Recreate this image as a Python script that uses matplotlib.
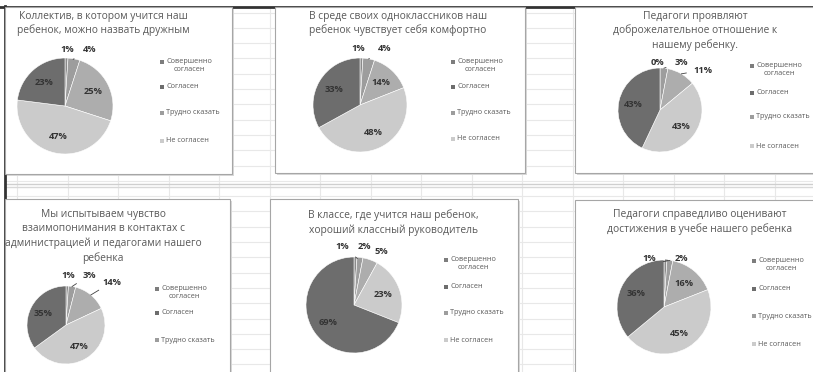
import numpy as np
import matplotlib
matplotlib.use('Agg')
import matplotlib.pyplot as plt
from matplotlib.patches import Rectangle

plt.rcParams['font.family'] = ['Open Sans', 'DejaVu Sans']

# survey answers, share of parents in %, slices clockwise from 12 o'clock
friendly = [1, 4, 25, 47, 23]
comfort = [1, 4, 14, 48, 33]
teachers_kind = [0, 3, 11, 43, 43]
mutual = [1, 3, 14, 47, 35]
class_teacher = [1, 2, 5, 23, 69]
fair_grades = [1, 2, 16, 45, 36]

titles = [
    'Коллектив, в котором учится наш\nребенок, можно назвать дружным',
    'В среде своих одноклассников наш\nребенок чувствует себя комфортно',
    'Педагоги проявляют\nдоброжелательное отношение к\nнашему ребенку.',
    'Мы испытываем чувство\nвзаимопонимания в контактах с\nадминистрацией и педагогами нашего\nребенка',
    'В классе, где учится наш ребенок,\nхороший классный руководитель',
    'Педагоги справедливо оценивают\nдостижения в учебе нашего ребенка',
]
answers = ['Совершенно\nсогласен', 'Согласен', 'Трудно сказать', 'Не согласен']

slice_colors = ['#8a8a8a', '#9d9d9d', '#adadad', '#cbcbcb', '#6d6d6d']
key_colors = ['#7d7d7d', '#6d6d6d', '#9d9d9d', '#cbcbcb']

W, H = 813, 372
fig = plt.figure(figsize=(W / 100, H / 100), dpi=100)
bg = fig.add_axes([0, 0, 1, 1])
bg.set_xlim(0, W)
bg.set_ylim(H, 0)
bg.axis('off')

# worksheet grid behind the charts
for x in np.arange(17, W, 50.5):
    bg.plot([x, x], [7, H], color='#e8e8e8', lw=0.8)
for y in np.arange(12.5, H, 15.3):
    bg.plot([5, W], [y, y], color='#e8e8e8', lw=0.8)
bg.plot([5, W], [183.5, 183.5], color='#cfcfcf', lw=1)
bg.plot([5, W], [186.5, 186.5], color='#d8d8d8', lw=1)
bg.plot([0, W], [6.5, 6.5], color='#333333', lw=2)
bg.plot([5, 5], [6, H], color='#333333', lw=2)

# panel box, title centre / top, pie centre and radius, legend x / ys, outside labels
layout = [
    dict(box=(5, 7, 232, 174), tx=103, ty=10.5, c=(65, 106), r=48, lx=162, ly=[62, 87, 113, 141],
         out={0: (0.04, 1.17, False), 1: (0.52, 1.17, True)}),
    dict(box=(275, 7, 525, 173), tx=398, ty=10.5, c=(360, 105), r=47, lx=453, ly=[62, 87, 113, 139],
         out={0: (-0.04, 1.21, False), 1: (0.53, 1.21, True)}),
    dict(box=(575, 7, 816, 173), tx=695, ty=10.5, c=(660, 110), r=42, lx=752, ly=[66, 93, 117, 146],
         out={0: (-0.05, 1.14, False), 1: (0.52, 1.14, True), 2: (1.02, 0.95, True)}),
    dict(box=(5, 199, 230, 376), tx=103, ty=209.5, c=(66, 325), r=39, lx=157, ly=[289, 313, 340],
         out={0: (0.05, 1.28, False), 1: (0.6, 1.28, True), 2: (1.18, 1.1, True)}),
    dict(box=(270, 199, 518, 376), tx=393, ty=209.5, c=(354, 305), r=48, lx=446, ly=[260, 287, 313, 340],
         out={0: (-0.25, 1.21, True), 1: (0.21, 1.21, False), 2: (0.56, 1.12, False)}),
    dict(box=(575, 200, 816, 376), tx=700, ty=209.5, c=(664, 307), r=47, lx=754, ly=[261, 289, 316, 344],
         out={0: (-0.32, 1.04, True), 1: (0.38, 1.04, True)}),
]
series = [friendly, comfort, teachers_kind, mutual, class_teacher, fair_grades]

for vals, title, L in zip(series, titles, layout):
    x0, y0, x1, y1 = L['box']
    bg.add_patch(Rectangle((x0 + 1.5, y0 + 1.5), x1 - x0, y1 - y0, facecolor='#d9d9d9',
                           edgecolor='none', zorder=2))
    bg.add_patch(Rectangle((x0, y0), x1 - x0, y1 - y0, facecolor='white',
                           edgecolor='#a6a6a6', lw=0.8, zorder=3))
    bg.text(L['tx'], L['ty'], title, ha='center', va='top', fontsize=7.4, color='#595959',
            linespacing=1.35, zorder=4)

    # legend keys
    for i, y in enumerate(L['ly']):
        bg.add_patch(Rectangle((L['lx'] - 1.8, y - 1.8), 3.6, 3.6, facecolor=key_colors[i],
                               edgecolor='none', zorder=4))
        if '\n' in answers[i]:
            bg.text(L['lx'] + 4, y - 4.3, answers[i], ha='left', va='top', fontsize=5.2,
                    color='#595959', multialignment='center', linespacing=1.3, zorder=4)
        else:
            bg.text(L['lx'] + 4, y, answers[i], ha='left', va='center',
                    fontsize=5.2, color='#595959', zorder=4)

    cx, cy = L['c']
    r = L['r']
    s = 1.5 * r
    ax = fig.add_axes([(cx - s) / W, 1 - (cy + s) / H, 2 * s / W, 2 * s / H])
    ax.pie(vals, colors=slice_colors, startangle=90, counterclock=False,
           wedgeprops=dict(edgecolor='white', linewidth=0.4))
    ax.set_xlim(-1.5, 1.5)
    ax.set_ylim(-1.5, 1.5)
    ax.axis('off')

    # percentage labels: inside the big slices, above the pie for the thin ones
    total = float(sum(vals))
    cum = np.cumsum(vals)
    for k, v in enumerate(vals):
        a = np.deg2rad(360 * (cum[k] - v / 2) / total)
        if k in L['out']:
            lx, ly, leader = L['out'][k]
            if leader:
                ex, ey = np.sin(a), np.cos(a)
                d = np.array([lx - ex, ly - ey])
                pull = 0.4 if abs(d[0]) > abs(d[1]) else 0.2
                end = np.array([lx, ly]) - pull * d / np.linalg.norm(d)
                ax.plot([ex, end[0]], [ey, end[1]], color='#404040', lw=0.6, clip_on=False)
        else:
            lx, ly = 0.65 * np.sin(a), 0.65 * np.cos(a)
        ax.text(lx, ly, f'{v}%', ha='center', va='center', fontsize=6.7, fontweight='bold',
                color='#333333', clip_on=False)

fig.savefig('out.png', dpi=100)
